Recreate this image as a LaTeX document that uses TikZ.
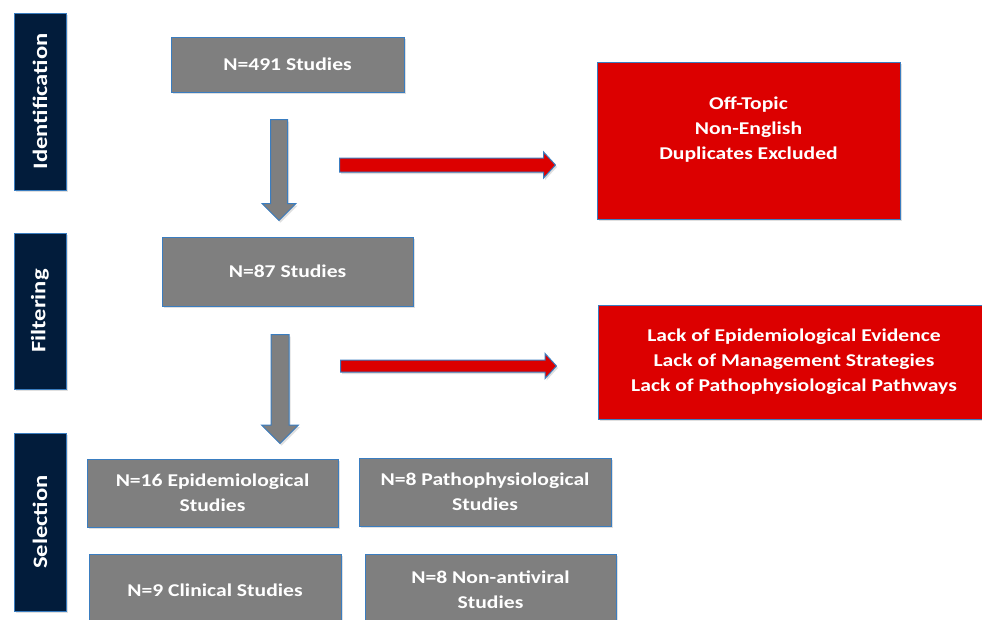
\documentclass[tikz,border=0pt]{standalone}
\usepackage{xcolor}
\usepackage{fontspec}
\setmainfont{Carlito}[FakeStretch=1.2]
\usepackage{tikz}
\usetikzlibrary{shapes.arrows,shadows}
\definecolor{phasenavy}{HTML}{021C3B}
\definecolor{edgeblue}{HTML}{3A7DC0}
\definecolor{boxgray}{HTML}{7F7F7F}
\definecolor{dropred}{HTML}{DC0000}

\begin{document}
\begin{tikzpicture}[x=1pt,y=-1pt,
    every node/.style={font=\fontsize{18}{25}\selectfont\bfseries,text=white,align=center,inner sep=0pt},
    softshadow/.style={drop shadow={shadow xshift=1.5pt,shadow yshift=-2pt,opacity=0.25}},
    phasebar/.style={draw=edgeblue,line width=1pt,fill=phasenavy,rotate=90,minimum height=52pt,font=\fontsize{20.5}{24}\selectfont\bfseries,softshadow},
    graybox/.style={draw=edgeblue,line width=1pt,fill=boxgray,softshadow},
    redbox/.style={draw=edgeblue,line width=1pt,fill=dropred,softshadow},
    downarrow/.style={single arrow,draw=edgeblue,line width=1pt,fill=boxgray,shape border rotate=270,single arrow tip angle=90,anchor=tail,softshadow},
    outarrow/.style={single arrow,draw=edgeblue,line width=1pt,fill=dropred,single arrow tip angle=95,anchor=tail,softshadow}]
  \useasboundingbox (0,0) rectangle (982,619);
  % phases on the left
  \node[phasebar,minimum width=177pt] (ident) at (40,101.5) {Identification};
  \node[phasebar,minimum width=156pt] (filt) at (40,311) {Filtering};
  \node[phasebar,minimum width=178pt] (sel) at (40,522) {Selection};
  % main flow
  \node[graybox,minimum width=233pt,minimum height=55pt] (n491) at (287.5,64.5) {N=491 Studies};
  \node[graybox,minimum width=251pt,minimum height=69pt] (n87) at (287.5,271.5) {N=87 Studies};
  \node[downarrow,inner sep=8pt,minimum height=101pt,minimum width=34pt,single arrow head extend=8.5pt] (down1) at (279,119) {};
  \node[downarrow,inner sep=8.5pt,minimum height=109pt,minimum width=37pt,single arrow head extend=9.5pt] (down2) at (280,334) {};
  % excluded records
  \node[redbox,minimum width=303pt,minimum height=157pt,text depth=25pt] (offtopic) at (748.5,140.5) {Off-Topic\\Non-English\\Duplicates Excluded};
  \node[redbox,minimum width=392pt,minimum height=114pt] (lackof) at (794,362) {Lack of Epidemiological Evidence\\Lack of Management Strategies\\Lack of Pathophysiological Pathways};
  \node[outarrow,inner sep=6.5pt,minimum height=216pt,minimum width=26pt,single arrow head extend=6pt] (out1) at (339,165) {};
  \node[outarrow,inner sep=5.5pt,minimum height=216pt,minimum width=25pt,single arrow head extend=6.5pt] (out2) at (340,366) {};
  % included studies
  \node[graybox,minimum width=251pt,minimum height=68pt] (epi) at (212.5,493) {N=16 Epidemiological\\Studies};
  \node[graybox,minimum width=252pt,minimum height=68pt] (patho) at (485,492) {N=8 Pathophysiological\\Studies};
  \node[graybox,minimum width=252pt,minimum height=72pt] (clin) at (215,590) {N=9 Clinical Studies};
  \node[graybox,minimum width=251pt,minimum height=72pt] (nonav) at (490.5,590) {N=8 Non-antiviral\\Studies};
\end{tikzpicture}
\end{document}
